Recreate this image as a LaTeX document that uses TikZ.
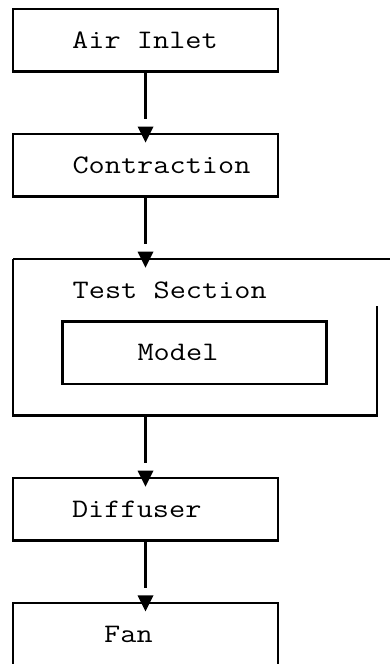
\documentclass[tikz,border=0pt]{standalone}
\usepackage{graphicx}
\begin{document}
\begin{tikzpicture}[x=1pt,y=-1pt,
  line width=2.3pt,
  boxnode/.style={draw, line width=2.3pt, minimum width=265pt, minimum height=62.5pt, inner sep=0pt, outer sep=0pt},
  hidden/.style={inner sep=0pt, outer sep=0pt, minimum width=364pt, minimum height=156.5pt},
  lbl/.style={inner sep=0pt, anchor=base},
  flow/.style={line width=2.3pt, shorten >=15pt}]
\newcommand\mono[1]{\scalebox{1}[0.85]{\fontsize{31.4}{33}\selectfont\ttfamily #1}}
\newcommand\tipdown[1]{\fill (#1) ++(-8,-7.5) -- ++(16,0) -- ++(-8,16) -- cycle;}
\useasboundingbox (0,0) rectangle (390,664);
% boxes
\node[boxnode] (inlet) at (145.5,40.25) {};
\node[boxnode] (contr) at (145.5,165.25) {};
\node[hidden] (ts) at (195,337.25) {};
\node[boxnode, minimum width=264pt] (model) at (194.5,352.75) {};
\node[boxnode] (diff) at (145.5,509.25) {};
\node[boxnode, minimum height=68pt] (fan) at (145.5,636.75) {};
% test section outline (irregular)
\coordinate (tsin) at (145.5,259);
\coordinate (tsout) at (145.5,415.5);
\draw (ts.north west) -- (ts.south west) -- (ts.south east) -- ++(0,-109.5);
\draw (ts.north west) -- (395,259);
% labels
\node[lbl] (t1) at (145,48.25) {\mono{Air Inlet}};
\node[lbl] (t2) at (161.5,173.25) {\mono{Contraction}};
\node[lbl] (t3) at (169.75,298.25) {\mono{Test Section}};
\node[lbl] (t4) at (178,360.75) {\mono{Model}};
\node[lbl] (t5) at (136.75,517) {\mono{Diffuser}};
\node[lbl] (t6) at (128.5,642) {\mono{Fan}};
% connectors
\draw[flow] (inlet.south) -- (contr.north);
\tipdown{contr.north}
\draw[flow] (contr.south) -- (tsin);
\tipdown{tsin}
\draw[flow] (tsout) -- (diff.north);
\tipdown{diff.north}
\draw[flow] (diff.south) -- (fan.north);
\tipdown{fan.north}
\end{tikzpicture}
\end{document}
